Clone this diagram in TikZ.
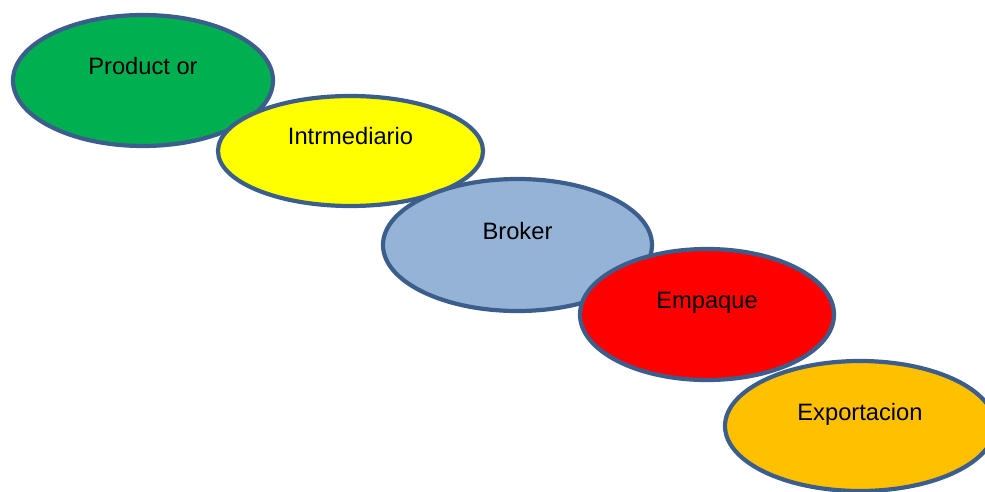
\documentclass[tikz,border=0pt]{standalone}
\usepackage{fontspec}
\setmainfont{Liberation Sans}
\usepackage{xcolor}
\usetikzlibrary{shapes.geometric}

\definecolor{rimblue}{HTML}{3B5E8C}
\definecolor{prodgreen}{HTML}{00B050}
\definecolor{interyellow}{HTML}{FFFF00}
\definecolor{brokerblue}{HTML}{95B3D7}
\definecolor{packred}{HTML}{FF0000}
\definecolor{exportorange}{HTML}{FFC000}

\begin{document}
\begin{tikzpicture}[x=1pt, y=-1pt,
  stage/.style={ellipse, draw=rimblue, line width=4.2pt, inner sep=0pt},
  stagetext/.style={text height=17pt, text depth=5pt, yshift=12pt,
    text=black, font=\fontsize{23.7}{28}\selectfont}]
\useasboundingbox (0,0) rectangle (985,492);
\clip (0,0) rectangle (985,492);
% chain of stages, each one drawn over the last
\node[stage, fill=prodgreen, minimum width=260pt, minimum height=131pt,
  label={[stagetext]center:Product or}] (prod) at (143,80.5) {};
\node[stage, fill=interyellow, minimum width=265pt, minimum height=110pt,
  label={[stagetext]center:Intrmediario}] (inter) at (350.5,151) {};
\node[stage, fill=brokerblue, minimum width=269pt, minimum height=132pt,
  label={[stagetext]center:Broker}] (broker) at (517.5,245) {};
\node[stage, fill=packred, minimum width=254pt, minimum height=131pt,
  label={[stagetext]center:Empaque}] (pack) at (707,314.5) {};
\node[stage, fill=exportorange, minimum width=270pt, minimum height=130pt,
  label={[stagetext]center:Exportacion}] (export) at (860,426) {};
\end{tikzpicture}
\end{document}
